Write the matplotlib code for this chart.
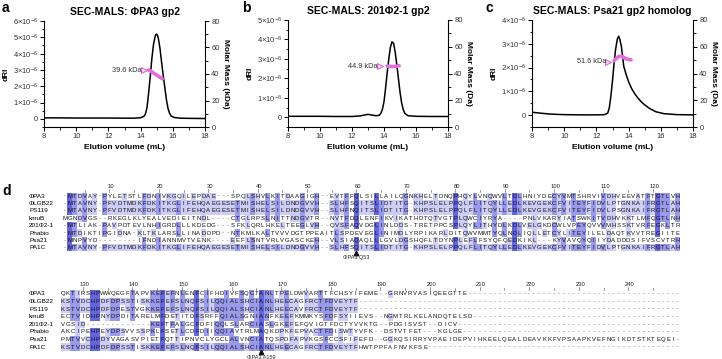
import matplotlib
matplotlib.use("Agg")
import matplotlib.pyplot as plt
import matplotlib.transforms as mtransforms
from matplotlib.ticker import MultipleLocator, FuncFormatter
from matplotlib.colors import ListedColormap
import numpy as np

plt.rcParams['font.family'] = ['Liberation Sans', 'DejaVu Sans']
plt.rcParams['mathtext.fontset'] = 'custom'
plt.rcParams['mathtext.rm'] = 'Liberation Sans'
plt.rcParams['mathtext.it'] = 'Liberation Sans:italic'
plt.rcParams['mathtext.bf'] = 'Liberation Sans:bold'

# ---- SEC-MALS traces: elution volume (mL) vs dRI (in units of 1e-6)
vol_a = [8.0, 9.0, 10.0, 11.0, 12.0, 13.0, 13.6, 14.0, 14.2, 14.3, 14.4, 14.5, 14.6, 14.7, 14.8,
         14.9, 14.95, 15.0, 15.05, 15.1, 15.2, 15.3, 15.4, 15.5, 15.6, 15.7, 15.8, 15.9, 16.1,
         16.5, 17.0, 18.0]
dri_a = [0.06, 0.06, 0.05, 0.05, 0.05, 0.04, 0.04, 0.07, 0.15, 0.3, 0.7, 1.6, 2.6, 3.7, 4.55,
         5.05, 5.17, 5.2, 5.12, 4.95, 4.35, 3.5, 2.7, 1.95, 1.2, 0.65, 0.34, 0.17, 0.08,
         0.04, 0.03, 0.02]

vol_b = [8.0, 9.0, 10.0, 11.0, 12.0, 12.5, 12.8, 13.0, 13.2, 13.5, 13.7, 13.8, 13.9, 14.0, 14.1,
         14.2, 14.3, 14.4, 14.5, 14.6, 14.7, 14.8, 14.9, 15.0, 15.1, 15.2, 15.3, 15.5, 16.0,
         17.0, 18.0]
dri_b = [0.05, 0.05, 0.05, 0.04, 0.04, 0.07, 0.12, 0.15, 0.12, 0.08, 0.1, 0.2, 0.4, 0.8, 1.5,
         2.3, 3.0, 3.6, 3.88, 3.8, 3.35, 2.7, 2.0, 1.3, 0.75, 0.4, 0.2, 0.08, 0.05,
         0.04, 0.04]

vol_c = [8.0, 8.3, 8.7, 9.2, 10.0, 11.0, 12.0, 12.5, 12.7, 12.8, 12.9, 13.0, 13.1, 13.2, 13.3,
         13.38, 13.45, 13.55, 13.7, 13.85, 14.0, 14.2, 14.4, 14.6, 14.8, 15.0, 15.3, 15.7,
         16.2, 17.0, 18.0]
dri_c = [0.12, 0.1, 0.07, 0.04, 0.02, 0.01, 0.01, 0.02, 0.08, 0.3, 0.8, 1.45, 2.2, 2.8, 3.2,
         3.32, 3.2, 2.9, 2.05, 1.7, 1.4, 1.1, 0.88, 0.7, 0.55, 0.43, 0.28, 0.14,
         0.06, 0.02, 0.01]

# molar mass across the peak (kDa)
mm_vol_a = [14.5, 14.65, 14.8, 14.95, 15.1, 15.25, 15.35]
mm_a = [43.0, 42.0, 40.8, 39.6, 38.4, 37.2, 36.4]
mm_vol_b = [14.2, 14.35, 14.5, 14.65, 14.8, 14.95]
mm_b = [45.5, 45.3, 45.2, 45.2, 45.4, 45.8]
mm_vol_c = [13.1, 13.25, 13.4, 13.55, 13.7, 13.85, 14.0, 14.15]
mm_c = [49.5, 51.5, 52.8, 52.8, 52.0, 51.0, 50.5, 50.2]

avg_labels = ['39.6 kDa', '44.9 kDa', '51.6 kDa']
avg_vol = [14.2, 13.75, 12.75]
avg_mass = [43.0, 45.6, 48.7]

titles = ['SEC-MALS: ΦPA3 gp2', 'SEC-MALS: 201Φ2-1 gp2', 'SEC-MALS: Psa21 gp2 homolog']
right_labels = ['Molar Mass (kDa)', 'Molar Mass (Da)', 'Molar Mass (Da)']
dri_max = [6, 5, 4]

# ---- alignment
names = ['ΦPA3', 'ΦLGB22', 'PS119', 'kmuB', '201Φ2-1', 'Phabio', 'Psa21', 'PA1C']
block1 = [
    '-MTDVAY-PYLETSTLFDNIVKGQILEPDAE---SPQLSHVLKITDAAGIGH--EVTFFQLSILLAILQGNKHELTDNQPHQYLVNQWVLTDLHNIYDECYVMTSHRVIVDHVEEVATFTGTLVH',
    '-MTAVNY-PFVDTMDKFDKITKGLIFEHQAEGESETMISHELSILDNDGVVH--SLHFSQITSLIDTITG-KHPSLELPPQLFLITQYLLEDLKEVGEKCFVITEYFIDVLPTGNKAIFRGTLAH',
    '-MTAVNY-PFVDTMDKFDKITKGLIFEHQAEGESETMISHELSILDNDGVVH--SLHFNQITSLIDTITG-KHPSLELPPQLFLITQYLLEDLKEVGEKCFVITEYFIDVLPSGNKAIFRGTLAH',
    'MGNDVGS--RKEGLKLYEALVEDIEITNDL----CTGLRPSLNITTNDGVTR--NVTFDQLENFIKVIKATHDTQTVGTPLQWCIYRYA----PNLVKARYIATSWKITVDHVKKTLMFQGTLNH',
    '-MTLIAK-PAVPDTEVLNHIGRDLLLKDEDG---SFKLQRLHKELTEEGLVH--QVSFAQVDGLINLDDS-TRETPPCSPLQYLITHYDLKDLVELGKDCWLVPEYQVVVMHSSKTVRFEGKLTR',
    '-MTDIKTIPGIDNA-KLTKLARSLLINADDPD--NTKMLKALTVVVDGTPPEAITLSPDEVEGLINIMDLYRPIKARLDITQWVMMTYQLNDLIQLLETCYLITEYILELDAQTKVVTREGIITE',
    '-MNPVYD--------IFNDIANNMVTVENK----EEFLSNTVRLVGASCKEH--VLSIAQAQLLLGVLDGSHQFLTDYNPLEFLFSYQFQEDKIKL---KYVAVQYQIIYDADDDSIFVSCVTRH',
    '-MTAVNY-PFVDTMDKFDKITKGLIFEHQAEGESETMISHELSILDNDGVVH--SLHFSQITSLIDTITG-KHPSLELPPQLFLITQYLLEDLKEVGEKCFVITEYFIDVLPTGNKAIFRGTLAH',
]
block2 = [
    'QKTIRSHPWWQEGFTAPVKEFEFNLENFCIFHDIVFSQCTANLTPELDWVARTTFCHSYIFEME--GRNVRVASIQEEGTTE',
    'KSTVDCHPDFDPSSTISKKEFEFSLNQFSILQQIALSHCIANLHEECAGFRCTFDVEYTF',
    'KSTVDCHPDFDPESTVGKKEFEFSLNQFSILQQIALSHCIANLHEECAVFRCTFDVEYTF',
    'ECTVIDHPNYDPDITARELMFDETITDFSRFFQIALSGNIANFKEEFKMMKYSFDFSYIIEVS--NGMTRLKELANDQTELSD',
    'VGSID-------------KEFTFALGCFDFIQQLSLARCIASLGKEFEFQVIGTFDCTYVVKTG--PDGISVST--DICV',
    'AKCIPEHPEYDPSVVSSPKLFSETLCDFDIIQQIAVTRLMAQKDPKFEPVACTFDISWTYVFK--DSTVTFET---KGLGE',
    'PMTVVCHPDYVAGASVPIETFQTTIPNVCLYGCLALVNCIATQSPDFAPVKGSFCCSFIFEFD--GGKQSIRRYVPAEIDEPVIHKEELQEALDEAVKKFVPSAAPKVEFNGIKDTSTKTEQEI',
    'KSTVDCHPDFDPSSTISKKEFEFSLNQFSILQQIALSHCIANLHEECAGFRCTFDVEYTFHWTPPFAFNVKFSE',
]
block_len = 125
block_starts = [1, 126]
q53_col, a159_col = 60, 166

blue_cmap = ListedColormap(['white', '#cdcdf6', '#9a9aea', '#6565dc'])

fig = plt.figure(figsize=(7.22, 3.59), dpi=100)
W, H = 722.0, 359.0


def px_axes(x0, y0, x1, y1):
    return fig.add_axes([x0 / W, 1 - y1 / H, (x1 - x0) / W, (y1 - y0) / H])


def sci_fmt(v, pos):
    n = int(round(v))
    if abs(v - n) > 1e-6:
        return ''
    if n == 0:
        return '0'
    return r'$%d{\times}10^{-6}$' % n


boxes = [(44, 21, 205, 127), (288, 20, 448, 127), (532, 20, 693, 127)]
traces = [(vol_a, dri_a, mm_vol_a, mm_a), (vol_b, dri_b, mm_vol_b, mm_b),
          (vol_c, dri_c, mm_vol_c, mm_c)]
letters = ['a', 'b', 'c']
letter_x = [2, 242, 486]

for i in range(3):
    ax = px_axes(*boxes[i])
    vol, dri, mvol, mm = traces[i]
    ax.plot(vol, dri, color='black', lw=1.1)
    ax.set_xlim(8, 18)
    ax.set_ylim(-0.5, dri_max[i])
    ax.xaxis.set_major_locator(MultipleLocator(2))
    ax.xaxis.set_minor_locator(MultipleLocator(1))
    ax.yaxis.set_major_locator(MultipleLocator(1))
    ax.yaxis.set_minor_locator(MultipleLocator(0.5))
    ax.yaxis.set_major_formatter(FuncFormatter(sci_fmt))
    for s in ['top', 'right']:
        ax.spines[s].set_visible(False)
    ax.tick_params(which='major', length=3, width=0.7, labelsize=5.5, pad=1.5, labelcolor='#333333')
    ax.tick_params(which='minor', length=1.8, width=0.6)
    ax.set_xlabel('Elution volume (mL)', fontsize=6, fontweight='bold', labelpad=3)
    ax.set_ylabel('dRI', fontsize=6, fontweight='bold', labelpad=2)
    ax.set_title(titles[i], fontsize=7.5, fontweight='bold', pad=4)

    ax2 = ax.twinx()
    ax2.set_ylim(0, 80)
    ax2.yaxis.set_major_locator(MultipleLocator(20))
    ax2.yaxis.set_minor_locator(MultipleLocator(10))
    for s in ['top', 'left', 'bottom']:
        ax2.spines[s].set_visible(False)
    ax2.tick_params(which='major', length=3, width=0.7, labelsize=5.5, pad=1.5, labelcolor='#333333')
    ax2.tick_params(which='minor', length=1.8, width=0.6)
    ax2.set_ylabel(right_labels[i], fontsize=6, fontweight='bold', rotation=270, labelpad=7)
    ax2.plot(mvol, mm, color='#e46ee0', lw=2.6, solid_capstyle='round')
    ax2.plot([avg_vol[i]], [avg_mass[i]], marker='>', ms=4, mfc='#f6d0f4', mec='#d45fd0', mew=0.7)
    ax2.text(avg_vol[i] - 0.15, avg_mass[i], avg_labels[i], ha='right', va='center',
             fontsize=5.3, color='#333333')

    fig.text(letter_x[i] / W, 1 - 8 / H, letters[i], fontsize=10, fontweight='bold', va='center')

fig.text(2 / W, 1 - 191 / H, 'd', fontsize=10, fontweight='bold', va='center')

# ---- alignment shading by column identity
seqs = []
for b1, b2 in zip(block1, block2):
    b1 = (b1 + '-' * block_len)[:block_len]
    b2 = (b2 + '-' * block_len)[:block_len]
    seqs.append(b1 + b2)
arr = np.array([list(s) for s in seqs])
levels = np.zeros(arr.shape, dtype=int)
for j in range(arr.shape[1]):
    col = arr[:, j]
    for r, ch in enumerate(col):
        if ch == '-':
            continue
        n = int(np.sum(col == ch))
        if n >= 7:
            levels[r, j] = 3
        elif n >= 5:
            levels[r, j] = 2
        elif n >= 3:
            levels[r, j] = 1

block_boxes = [(62.5, 192.6, 680.0, 251.4), (60.5, 290.2, 680.5, 350.8)]
ruler_y = [-0.3, -0.25]
mark_y = [8.65, 8.72]
mark_lbl_y = [9.35, 9.42]
marks = [(q53_col, 'ΦPA3 Q53'), (a159_col, 'ΦPA3 A159')]

for k in range(2):
    ax = px_axes(*block_boxes[k])
    start = block_starts[k]
    cols = np.arange(start, start + block_len)
    sub = levels[:, start - 1:start - 1 + block_len]
    ax.pcolormesh(np.arange(start - 0.5, start + block_len), np.arange(0.5, 9.0), sub,
                  cmap=blue_cmap, vmin=-0.5, vmax=3.5)
    ax.set_xlim(start - 0.5, start + block_len - 0.5)
    ax.set_ylim(8.5, 0.5)
    ax.axis('off')
    for r in range(len(seqs)):
        for c in cols:
            ch = seqs[r][c - 1]
            ax.text(c, r + 1, ch, ha='center', va='center', fontsize=4.3,
                    color='#555555' if ch == '-' else '#111111')
    tr = mtransforms.blended_transform_factory(fig.transFigure, ax.transData)
    for r, nm in enumerate(names):
        ax.text(29 / W, r + 1, nm, transform=tr, ha='left', va='center', fontsize=4.6)
    # ruler (no number on the last column of a block)
    for c in cols[:-1]:
        if c % 10 == 0:
            ax.text(c + 0.3, ruler_y[k], str(c), ha='center', va='center', fontsize=4.2,
                    color='#222222', clip_on=False)
            ax.plot([c, c], [0.05, 0.45], color='#444444', lw=0.4, clip_on=False)
        elif c % 5 == 0:
            ax.plot([c, c], [0.2, 0.42], color='#444444', lw=0.4, clip_on=False)
    mc, mlab = marks[k]
    ax.plot([mc], [mark_y[k]], marker='^', ms=3.2, color='#111111', clip_on=False)
    ax.text(mc, mark_lbl_y[k], mlab, ha='center', va='center', fontsize=4.0,
            color='#222222', clip_on=False)

fig.savefig('out.png', dpi=100)
